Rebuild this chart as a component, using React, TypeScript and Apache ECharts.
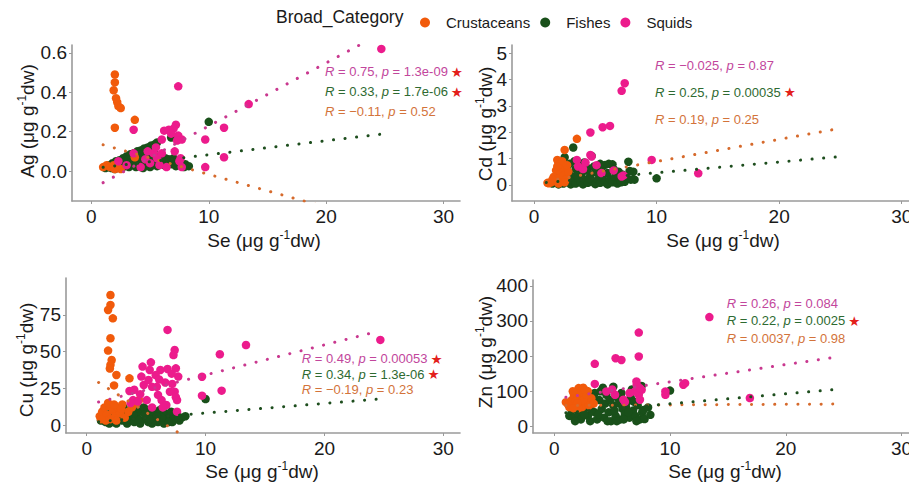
import React, { useEffect, useRef } from "react";
import * as echarts from "echarts";

const FONT = "'Liberation Sans', Arial, sans-serif";

const categories = ["Crustaceans", "Fishes", "Squids"];
const pointColors = ["#F15A0B", "#19501A", "#EC1B8C"];
const fitColors = ["#D66A2C", "#1E4E1E", "#C9388F"];
const statColors = ["#D3733A", "#2E6A31", "#C2469C"];
const starColor = "#E3201B";
const drawOrder = [2.1, 2.0, 2.2];

const xTicks = [0, 10, 20, 30];
const agTicks = [0, 0.2, 0.4, 0.6];
const cdTicks = [0, 1, 2, 3, 4, 5];
const cuTicks = [0, 25, 50, 75];
const znTicks = [0, 100, 200, 300, 400];

// ---------- Ag ----------
const agCrust = [
  [2.0, 0.49], [2.0, 0.45], [1.9, 0.41], [2.1, 0.37], [2.2, 0.35], [2.3, 0.33], [2.5, 0.32], [2.0, 0.22], [3.7, 0.26],
  [1.0, 0.02], [1.3, 0.03], [1.6, 0.02], [1.9, 0.03], [2.2, 0.02], [2.5, 0.01], [3.7, 0.07], [2.0, 0.01],
];
const agFish = [
  [1.5, 0.03], [1.8, 0.04], [2.1, 0.05], [2.4, 0.055], [2.7, 0.065], [3.0, 0.075], [3.3, 0.085], [3.6, 0.09], [3.9, 0.1],
  [4.2, 0.105], [4.5, 0.115], [4.8, 0.12], [5.1, 0.13], [5.4, 0.135], [5.6, 0.145], [6.8, 0.17], [10.0, 0.25],
  [1.2, 0.015], [1.4, 0.02], [1.7, 0.015], [2.0, 0.01], [2.3, 0.025], [2.6, 0.015], [2.9, 0.03], [3.2, 0.02], [3.5, 0.035],
  [3.8, 0.02], [4.1, 0.03], [4.4, 0.015], [4.7, 0.03], [5.0, 0.02], [5.3, 0.035], [5.6, 0.025], [5.9, 0.04], [6.2, 0.03],
  [6.5, 0.045], [6.8, 0.035], [7.1, 0.05], [7.4, 0.04], [7.7, 0.03], [8.0, 0.035], [8.3, 0.025], [7.9, 0.02], [7.2, 0.025],
  [6.6, 0.06], [6.0, 0.055], [5.4, 0.05], [4.8, 0.045], [4.2, 0.05], [3.6, 0.055], [3.0, 0.05], [2.4, 0.04], [1.9, 0.03],
  [2.6, 0.045], [3.2, 0.06], [3.8, 0.07], [4.4, 0.08], [5.0, 0.09], [5.3, 0.1], [4.6, 0.065], [4.0, 0.06], [3.4, 0.045],
  [2.8, 0.035], [5.7, 0.07], [6.3, 0.065], [7.0, 0.065], [4.9, 0.105], [4.3, 0.09], [5.2, 0.075],
];
const agSquid = [
  [24.7, 0.62], [13.4, 0.34], [11.3, 0.22], [11.3, 0.07], [9.7, 0.16], [9.7, 0.02], [7.4, 0.43], [3.6, 0.21],
  [7.2, 0.235], [7.0, 0.215], [6.6, 0.21], [6.2, 0.205], [6.0, 0.16], [7.4, 0.18], [7.7, 0.16], [7.3, 0.155], [6.8, 0.19],
  [5.3, 0.09], [5.6, 0.065], [7.6, 0.065], [7.7, 0.02], [3.6, 0.09], [4.6, 0.06], [5.8, 0.03], [6.4, 0.02], [4.2, 0.02],
  [7.5, 0.05], [5.0, 0.04], [6.0, 0.09], [3.0, 0.03], [2.3, 0.05], [5.5, 0.12], [4.8, 0.1], [7.1, 0.1],
];

// ---------- Cd ----------
const cdCrust = [
  [3.5, 1.75], [2.5, 1.33], [2.0, 0.82], [2.3, 0.64], [1.9, 0.95], [2.1, 0.7], [1.8, 0.55], [2.2, 0.45], [1.6, 0.3],
  [2.0, 0.25], [1.1, 0.08], [1.4, 0.1], [1.7, 0.15], [2.4, 0.35], [2.6, 0.2], [2.8, 0.5], [1.2, 0.06], [2.0, 0.05],
  [2.5, 0.1], [2.3, 0.9], [1.9, 0.7], [2.7, 0.75], [1.5, 0.2],
];
const cdFish = [
  [3.2, 1.42], [4.7, 1.1], [10.0, 0.25], [7.7, 0.88], [8.1, 0.5], [8.2, 0.2], [5.4, 0.8], [6.1, 0.8], [6.4, 0.78],
  [2.5, 1.05], [4.4, 0.63], [5.8, 0.76], [7.8, 0.53],
  [1.5, 0.05], [1.8, 0.1], [2.0, 0.02], [2.2, 0.15], [2.4, 0.05], [2.6, 0.25], [2.8, 0.1], [3.0, 0.35], [3.0, 0.02],
  [3.2, 0.15], [3.4, 0.6], [3.4, 0.05], [3.6, 0.25], [3.8, 0.1], [3.9, 0.45], [4.0, 0.02], [4.2, 0.2], [4.4, 0.08],
  [4.6, 0.35], [4.8, 0.12], [5.0, 0.03], [5.0, 0.5], [5.2, 0.2], [5.4, 0.08], [5.6, 0.3], [5.8, 0.1], [6.0, 0.45],
  [6.0, 0.02], [6.2, 0.2], [6.4, 0.1], [6.6, 0.3], [6.8, 0.05], [7.0, 0.2], [7.2, 0.4], [7.4, 0.12], [7.6, 0.25],
  [7.9, 0.2], [2.7, 0.55], [2.9, 0.8], [3.3, 0.9], [3.7, 0.75], [4.1, 0.85], [4.3, 0.55], [2.5, 0.4], [2.1, 0.3],
  [1.7, 0.25], [4.9, 0.7], [5.5, 0.55], [6.9, 0.5], [3.5, 0.35], [4.5, 0.25], [5.3, 0.4], [6.5, 0.6], [2.3, 0.6], [7.1, 0.1],
];
const cdSquid = [
  [7.4, 3.86], [7.15, 3.57], [6.2, 2.24], [5.6, 2.19], [4.6, 1.99], [9.6, 0.95], [13.4, 0.44], [3.5, 0.95], [4.6, 1.14],
  [5.1, 0.75], [7.3, 0.36], [4.7, 1.08], [7.15, 0.32], [4.0, 0.6], [5.5, 0.45], [6.5, 0.55], [4.2, 0.85], [3.6, 0.7],
];

// ---------- Cu ----------
const cuCrust = [
  [2.0, 88.6], [2.0, 81.8], [1.8, 78.4], [2.2, 72.7], [2.0, 59.1], [1.8, 50.7], [2.1, 44.3], [2.0, 40.9], [1.95, 38.5],
  [2.5, 34.1], [3.6, 31.8], [2.3, 27.0],
  [1.1, 6], [1.3, 9], [1.5, 12], [1.7, 7], [1.9, 13], [2.0, 4], [2.2, 10], [2.4, 6], [2.6, 12], [2.8, 8], [3.0, 14],
  [3.2, 5], [1.6, 3], [2.5, 3], [3.5, 9], [1.8, 15], [2.3, 14], [2.9, 11], [1.2, 4], [3.8, 12], [4.2, 15], [4.4, 17],
];
const cuFish = [
  [1.2, 3], [1.4, 5], [1.6, 2], [1.8, 6], [2.0, 3], [2.2, 8], [2.4, 2], [2.6, 5], [2.8, 10], [3.0, 3], [3.2, 7], [3.4, 1],
  [3.6, 4], [3.8, 11], [4.0, 2], [4.2, 6], [4.4, 9], [4.6, 3], [4.8, 12], [5.0, 5], [5.2, 2], [5.4, 7], [5.6, 4], [5.8, 9],
  [6.0, 2], [6.2, 6], [6.4, 3], [6.6, 8], [6.8, 4], [7.0, 6], [7.2, 2], [7.4, 5], [7.6, 7], [7.8, 3], [8.0, 5], [8.3, 6],
  [2.1, 11], [3.1, 12], [3.5, 9], [4.1, 13], [4.5, 1], [5.1, 10], [5.5, 1], [6.1, 10], [6.5, 1], [7.1, 9], [2.5, 1],
  [1.5, 8], [3.3, 4], [4.3, 4], [5.3, 4], [6.3, 5], [7.3, 4], [2.7, 7], [3.9, 7], [4.9, 7], [5.9, 6], [6.9, 2], [7.7, 5],
  [2.3, 4], [1.9, 1], [10.0, 17.7],
];
const cuSquid = [
  [6.8, 64.8], [7.4, 51.1], [7.3, 47.7], [13.4, 54.5], [11.2, 48.2], [11.35, 23.4], [9.7, 32.9], [9.7, 20], [24.7, 58],
  [5.4, 42.7], [4.7, 39.8], [6.2, 37.5], [6.8, 38.2], [7.5, 38.6], [7.7, 33], [3.6, 23.2], [4.8, 27.3], [7.6, 9.1],
  [7.4, 22.7], [5.05, 17], [4.6, 33], [3.9, 17], [5.2, 30.7], [5.5, 26], [6.0, 20.5], [6.3, 17], [7.0, 22.7], [6.7, 13.6],
  [7.6, 17], [7.15, 35], [5.3, 37.5], [4.0, 24], [4.3, 16], [5.9, 26], [6.6, 29], [7.2, 28], [4.5, 21], [5.8, 34],
  [6.4, 12], [6.1, 31], [5.5, 12], [3.7, 15], [7.5, 19],
];

// ---------- Zn ----------
const znCrust = [
  [1.0, 69], [2.1, 109], [2.5, 110], [1.5, 75], [1.7, 90], [1.9, 60], [2.0, 80], [2.2, 95], [2.3, 65], [2.4, 55],
  [2.6, 85], [2.7, 70], [2.9, 100], [3.0, 60], [3.2, 80], [1.3, 55], [1.8, 70], [2.1, 52], [2.5, 75], [2.8, 90],
  [1.6, 100], [3.4, 65], [1.2, 62], [2.0, 66], [2.65, 104], [1.65, 52],
];
const znFish = [
  [1.3, 30], [1.5, 45], [1.7, 25], [1.9, 60], [2.1, 35], [2.3, 20], [2.5, 50], [2.7, 80], [2.9, 30], [3.1, 15],
  [3.3, 65], [3.5, 95], [3.5, 40], [3.7, 20], [3.9, 75], [4.1, 50], [4.3, 25], [4.5, 90], [4.7, 40], [4.9, 15],
  [5.1, 113], [5.1, 60], [5.3, 30], [5.5, 80], [5.7, 20], [5.9, 50], [6.1, 35], [6.3, 70], [6.5, 25], [6.6, 82],
  [6.8, 45], [7.0, 30], [7.2, 60], [7.4, 20], [7.55, 115], [7.6, 40], [7.7, 47], [7.8, 21], [8.1, 54], [8.3, 33],
  [10.0, 102], [2.2, 75], [2.8, 100], [3.0, 55], [3.4, 85], [3.8, 35], [4.0, 100], [4.4, 65], [4.6, 15], [4.8, 75],
  [5.2, 45], [5.4, 15], [5.6, 65], [5.8, 95], [6.0, 20], [6.2, 55], [6.4, 40], [6.9, 70], [7.1, 15], [3.2, 45],
  [2.6, 35], [1.8, 15], [4.2, 110], [6.7, 105], [2.4, 90],
];
const znSquid = [
  [13.4, 311], [7.3, 267], [7.3, 199], [5.3, 194], [5.8, 189], [3.5, 178], [3.5, 121], [7.1, 128], [7.55, 104],
  [7.3, 90], [7.4, 76], [4.5, 99.5], [5.25, 90], [5.97, 76], [6.97, 99.5], [7.12, 118], [7.4, 109], [9.6, 99.5],
  [9.6, 90], [11.15, 118.6], [11.3, 123], [16.9, 80.7], [6.1, 70], [5.0, 105], [6.5, 95],
];

// regression lines: [intercept, slope] per category (Crustaceans, Fishes, Squids)
const fitRange = [1.0, 24.6];
const agFit = [[0.15, -0.0167], [0.012, 0.0071], [-0.091, 0.032]];
const cdFit = [[0.05, 0.084], [0.05, 0.041], null];
const cuFit = [[34.1, -5.1], [1.63, 0.654], [13.6, 2.05]];
const znFit = [[59.5, 0.17], [36, 2.84], [78, 4.9]];

// correlation labels: [R, p, significant] per category
const agStats = [["\u22120.11", "0.52", false], ["0.33", "1.7e-06", true], ["0.75", "1.3e-09", true]];
const cdStats = [["0.19", "0.25", false], ["0.25", "0.00035", true], ["\u22120.025", "0.87", false]];
const cuStats = [["\u22120.19", "0.23", false], ["0.34", "1.3e-06", true], ["0.49", "0.00053", true]];
const znStats = [["0.0037", "0.98", false], ["0.22", "0.0025", true], ["0.26", "0.084", false]];

const panels = [
  {
    metal: "Ag", data: [agCrust, agFish, agSquid], fit: agFit, stats: agStats, yTicks: agTicks, dec: 1,
    grid: { left: 72, top: 45, width: 388, height: 156 }, xr: [-1.65, 31.4], yr: [-0.152, 0.64],
    yTitle: [27, 121], xTitle: [264, 240], statX: 325, statY: [111.7, 91.7, 71.7],
  },
  {
    metal: "Cd", data: [cdCrust, cdFish, cdSquid], fit: cdFit, stats: cdStats, yTicks: cdTicks, dec: 0,
    grid: { left: 512, top: 45, width: 408, height: 156 }, xr: [-1.795, 31.49], yr: [-0.61, 5.31],
    yTitle: [485, 124], xTitle: [723, 240], statX: 655, statY: [119.3, 92.3, 65],
  },
  {
    metal: "Cu", data: [cuCrust, cuFish, cuSquid], fit: cuFit, stats: cuStats, yTicks: cuTicks, dec: 0,
    grid: { left: 66, top: 278, width: 394, height: 155 }, xr: [-1.74, 31.4], yr: [-5.45, 100.2],
    yTitle: [26, 360], xTitle: [262, 471], statX: 301.7, statY: [389, 374, 358.5],
  },
  {
    metal: "Zn", data: [znCrust, znFish, znSquid], fit: znFit, stats: znStats, yTicks: znTicks, dec: 0,
    grid: { left: 533, top: 280, width: 387, height: 153 }, xr: [-1.84, 31.6], yr: [-18.7, 416.5],
    yTitle: [485, 352], xTitle: [725, 471], statX: 726.7, statY: [338.3, 320.7, 303.3],
  },
];

const AXIS_COLOR = "#9a9a9a";
const TEXT_COLOR = "#1a1a1a";

function titleRich(prefix: string) {
  return {
    text: `{n|${prefix} (\u03bcg g}{s|-1}{n|dw)}`,
    rich: {
      n: { fontSize: 19, fontFamily: FONT, lineHeight: 22, fill: TEXT_COLOR },
      s: { fontSize: 12, fontFamily: FONT, lineHeight: 12, verticalAlign: "top", fill: TEXT_COLOR },
    },
  };
}

function buildOption() {
  const grids: any[] = [];
  const xAxes: any[] = [];
  const yAxes: any[] = [];
  const series: any[] = [];
  const graphics: any[] = [];

  panels.forEach((p, i) => {
    grids.push({ ...p.grid, containLabel: false, outerBoundsMode: "none" });
    const axisCommon = {
      gridIndex: i,
      type: "value",
      splitLine: { show: false },
      axisLine: { show: true, onZero: false, lineStyle: { color: AXIS_COLOR, width: 1.6 } },
      axisTick: { show: true, length: 3, lineStyle: { color: AXIS_COLOR, width: 1 } },
    };
    xAxes.push({
      ...axisCommon,
      min: p.xr[0], max: p.xr[1],
      axisTick: { ...axisCommon.axisTick, customValues: xTicks },
      axisLabel: { customValues: xTicks, fontSize: 19, fontFamily: FONT, color: TEXT_COLOR, margin: 6 },
    });
    yAxes.push({
      ...axisCommon,
      min: p.yr[0], max: p.yr[1],
      axisTick: { ...axisCommon.axisTick, customValues: p.yTicks },
      axisLabel: {
        customValues: p.yTicks, fontSize: 19, fontFamily: FONT, color: TEXT_COLOR, margin: 5,
        formatter: (v: number) => v.toFixed(p.dec),
      },
    });

    p.data.forEach((pts, c) => {
      series.push({
        type: "scatter", name: categories[c], xAxisIndex: i, yAxisIndex: i,
        data: pts, symbol: "circle", symbolSize: 8.5,
        itemStyle: { color: pointColors[c], opacity: 1 }, z: drawOrder[c], silent: true,
      });
    });

    p.fit.forEach((f, c) => {
      if (!f) return;
      const [a, b] = f as number[];
      series.push({
        type: "line", name: "fit-" + categories[c], xAxisIndex: i, yAxisIndex: i,
        data: fitRange.map((x) => [x, a + b * x]),
        showSymbol: false, symbol: "none", clip: true, silent: true, z: 4,
        lineStyle: { color: fitColors[c], width: 3, type: [0.1, 11.5], cap: "round" },
      });
    });

    graphics.push({
      type: "text", x: p.yTitle[0], y: p.yTitle[1], rotation: Math.PI / 2,
      style: { ...titleRich(p.metal), align: "center", verticalAlign: "middle" },
    });
    graphics.push({
      type: "text", x: p.xTitle[0], y: p.xTitle[1],
      style: { ...titleRich("Se"), align: "center", verticalAlign: "middle" },
    });

    p.stats.forEach((s, c) => {
      const [r, pv, sig] = s as [string, string, boolean];
      const col = statColors[c];
      graphics.push({
        type: "text", x: p.statX, y: p.statY[c],
        style: {
          text: `{i|R} = ${r}, {i|p} = ${pv}` + (sig ? "{s|\u2605}" : ""),
          fill: col, fontSize: 13, fontFamily: FONT, align: "left", verticalAlign: "middle",
          rich: {
            i: { fontStyle: "italic", fontSize: 13, fontFamily: FONT, fill: col },
            s: { fontSize: 13.5, lineHeight: 13, fontFamily: "'DejaVu Sans', sans-serif", fill: starColor, padding: [0, 0, 0, 3] },
          },
        },
      });
    });
  });

  graphics.push({
    type: "text", x: 276, y: 17,
    style: { text: "Broad_Category", fontSize: 17.5, fontFamily: FONT, fill: TEXT_COLOR, align: "left", verticalAlign: "middle" },
  });

  return {
    animation: false,
    backgroundColor: "#ffffff",
    grid: grids,
    xAxis: xAxes,
    yAxis: yAxes,
    series,
    graphic: graphics,
    legend: {
      data: categories,
      left: 415, top: 10,
      icon: "circle", itemWidth: 10, itemHeight: 10, itemGap: 10,
      selectedMode: false,
      textStyle: { fontSize: 15, fontFamily: FONT, color: TEXT_COLOR, padding: [0, 0, 0, 11] },
    },
  };
}

export default function App() {
  const ref = useRef<HTMLDivElement>(null);
  useEffect(() => {
    document.body.style.margin = "0";
    if (!ref.current) return;
    const chart = echarts.init(ref.current, undefined, { renderer: "svg" });
    chart.setOption(buildOption() as any);
    return () => chart.dispose();
  }, []);
  return <div ref={ref} style={{ width: 909, height: 483 }} />;
}
